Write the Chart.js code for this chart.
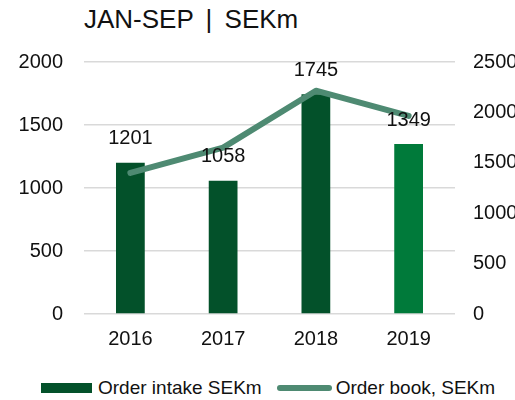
<!DOCTYPE html>
<html>
<head>
<meta charset="utf-8">
<script src="https://cdn.jsdelivr.net/npm/chart.js@4"></script>
<style>
  body { margin: 0; background: #fff; font-family: "Liberation Sans", Arial, sans-serif; }
  #wrap { position: relative; width: 515px; height: 400px; overflow: hidden; }
  #title { position: absolute; left: 84px; top: 4px; font-size: 26px; color: #111; word-spacing: 5px; }
  #chartBox { position: absolute; left: 0; top: 0; width: 515px; height: 356px; }
  #legend { position: absolute; left: 41px; top: 377px; display: flex; align-items: center; font-size: 19px; color: #111; white-space: nowrap; }
  .swatch-bar { width: 51px; height: 10px; background: #03512a; margin-right: 6px; }
  .swatch-line { width: 55px; height: 6px; border-radius: 3px; background: #4e8a72; margin-left: 15px; margin-right: 4px; }
</style>
</head>
<body>
<div id="wrap">
  <div id="title">JAN-SEP | SEKm</div>
  <div id="chartBox"><canvas id="chart"></canvas></div>
  <div id="legend">
    <div class="swatch-bar"></div><span>Order intake SEKm</span>
    <div class="swatch-line"></div><span>Order book, SEKm</span>
  </div>
</div>
<script>
// Data
const years = ['2016', '2017', '2018', '2019'];
const orderIntake = [1201, 1058, 1745, 1349];
const orderBook = [1400, 1650, 2215, 1965];
const barColors = ['#03512a', '#03512a', '#03512a', '#007a3a'];
const leftTicks = [0, 500, 1000, 1500, 2000];
const rightTicks = [0, 500, 1000, 1500, 2000, 2500];

// value labels above bars
const barLabels = {
  id: 'barLabels',
  afterDatasetsDraw(chart) {
    const ctx = chart.ctx;
    const meta = chart.getDatasetMeta(1);
    ctx.save();
    ctx.font = '20px "Liberation Sans", Arial, sans-serif';
    ctx.fillStyle = '#111';
    ctx.textAlign = 'center';
    ctx.textBaseline = 'middle';
    meta.data.forEach((bar, i) => {
      ctx.fillText(orderIntake[i], bar.x, bar.y - 24);
    });
    ctx.restore();
  }
};

const tickFont = { family: '"Liberation Sans", Arial, sans-serif', size: 20 };
const plain = (v) => String(v);

new Chart(document.getElementById('chart'), {
  data: {
    labels: years,
    datasets: [
      {
        type: 'line',
        label: 'Order book, SEKm',
        data: orderBook,
        yAxisID: 'y2',
        borderColor: '#4e8a72',
        borderWidth: 6,
        borderCapStyle: 'round',
        borderJoinStyle: 'round',
        pointRadius: 0,
        tension: 0,
        order: 0
      },
      {
        type: 'bar',
        label: 'Order intake SEKm',
        data: orderIntake,
        yAxisID: 'y',
        backgroundColor: barColors,
        categoryPercentage: 1,
        barPercentage: 0.31,
        order: 1
      }
    ]
  },
  options: {
    responsive: true,
    maintainAspectRatio: false,
    animation: false,
    layout: { padding: { top: 62, left: 0, right: 0, bottom: 0 } },
    plugins: {
      legend: { display: false },
      tooltip: { enabled: false }
    },
    scales: {
      x: {
        grid: { display: false },
        border: { display: false },
        ticks: { color: '#111', font: tickFont, padding: 5 }
      },
      y: {
        position: 'left',
        min: 0,
        max: 2000,
        afterBuildTicks: (axis) => { axis.ticks = leftTicks.map(v => ({ value: v })); },
        afterFit: (axis) => { axis.width = 84; },
        grid: { color: '#d9d9d9', lineWidth: 1.5, drawTicks: false },
        border: { display: false },
        ticks: { color: '#111', font: tickFont, padding: 21, callback: plain }
      },
      y2: {
        position: 'right',
        min: 0,
        max: 2500,
        afterBuildTicks: (axis) => { axis.ticks = rightTicks.map(v => ({ value: v })); },
        afterFit: (axis) => { axis.width = 60; },
        grid: { display: false, drawTicks: false },
        border: { display: false },
        ticks: { color: '#111', font: tickFont, padding: 18, callback: plain }
      }
    }
  },
  plugins: [barLabels]
});
</script>
</body>
</html>
